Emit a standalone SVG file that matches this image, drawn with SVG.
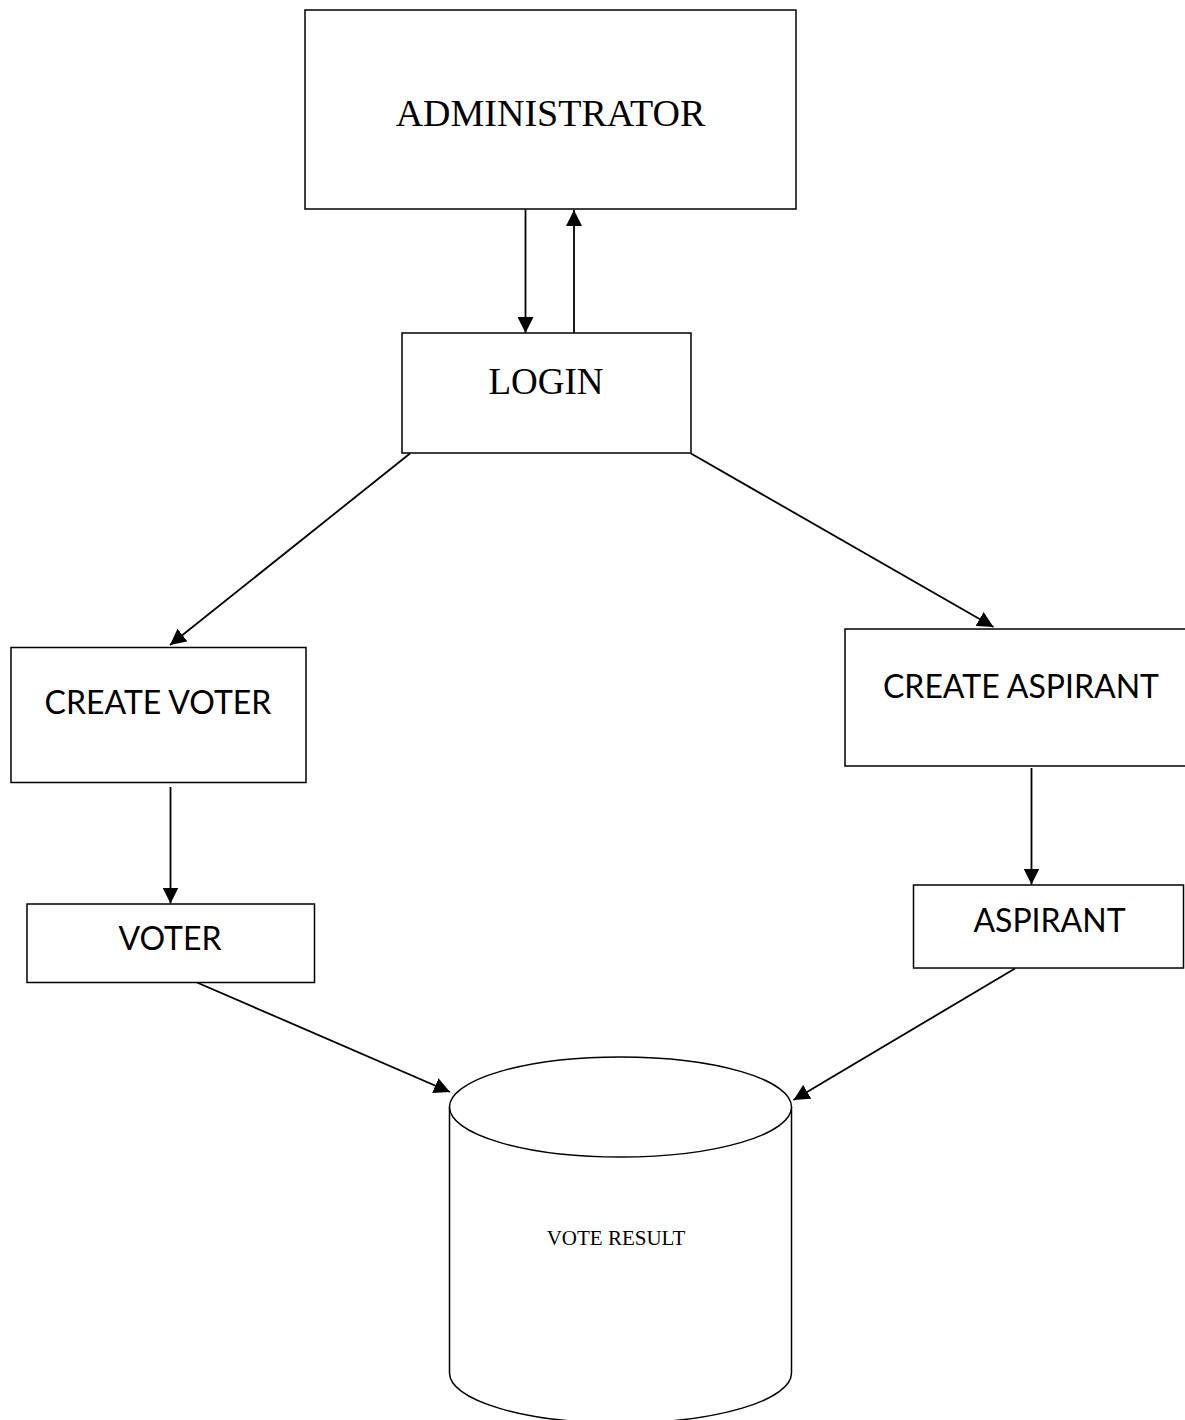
<svg xmlns="http://www.w3.org/2000/svg" width="1185" height="1420" viewBox="0 0 1185 1420">
<style>
.box{fill:#fff;stroke:#000;stroke-width:1.5}
.edge{fill:none;stroke:#000;stroke-width:1.8}
.serif{font-family:"Liberation Serif","Times New Roman",serif;fill:#000}
.sans{font-family:Lato,"Liberation Sans",sans-serif;fill:#000}
</style>
<defs>
<marker id="arr" markerUnits="userSpaceOnUse" markerWidth="16" markerHeight="16" viewBox="0 0 16 16" refX="16" refY="8" orient="auto">
<path d="M0,0 L16,8 L0,16 Z" fill="#000"/>
</marker>
</defs>
<rect width="1185" height="1420" fill="#fff"/>
<g id="administrator">
<rect class="box" x="305" y="10" width="491" height="199"/>
<text class="serif" x="550.5" y="126" font-size="38" text-anchor="middle">ADMINISTRATOR</text>
</g>
<g id="login">
<rect class="box" x="402" y="333" width="289" height="120"/>
<text class="serif" x="546" y="394" font-size="37" text-anchor="middle">LOGIN</text>
</g>
<g id="create-voter">
<rect class="box" x="11" y="647.5" width="295" height="135"/>
<text class="sans" x="158" y="714" font-size="32" text-anchor="middle">CREATE VOTER</text>
</g>
<g id="voter">
<rect class="box" x="27" y="904" width="287.5" height="78.5"/>
<text class="sans" x="170" y="950" font-size="32" text-anchor="middle">VOTER</text>
</g>
<g id="create-aspirant">
<path class="box" d="M1186,629 L845,629 L845,766 L1186,766"/>
<text class="sans" x="1021" y="698" font-size="32" text-anchor="middle">CREATE ASPIRANT</text>
</g>
<g id="aspirant">
<rect class="box" x="913.5" y="885" width="270" height="83"/>
<text class="sans" x="1049.5" y="932" font-size="32" text-anchor="middle">ASPIRANT</text>
</g>
<g id="vote-result">
<path class="box" d="M449.5,1107 L449.5,1373 A171,50 0 0 0 791.5,1373 L791.5,1107"/>
<ellipse class="box" cx="620.5" cy="1107" rx="171" ry="50"/>
<text class="serif" x="616" y="1245" font-size="21" text-anchor="middle">VOTE RESULT</text>
</g>
<g id="connectors">
<line class="edge" x1="525.5" y1="209" x2="525.5" y2="333" marker-end="url(#arr)"/>
<line class="edge" x1="574" y1="333" x2="574" y2="210" marker-end="url(#arr)"/>
<line class="edge" x1="410" y1="453.5" x2="170" y2="645" marker-end="url(#arr)"/>
<line class="edge" x1="691" y1="453.5" x2="993.5" y2="627" marker-end="url(#arr)"/>
<line class="edge" x1="170.5" y1="787" x2="170.5" y2="903.5" marker-end="url(#arr)"/>
<line class="edge" x1="1031.5" y1="768" x2="1031.5" y2="884.5" marker-end="url(#arr)"/>
<line class="edge" x1="197" y1="982.5" x2="450" y2="1092" marker-end="url(#arr)"/>
<line class="edge" x1="1015" y1="968.5" x2="793.5" y2="1100" marker-end="url(#arr)"/>
</g>
</svg>
